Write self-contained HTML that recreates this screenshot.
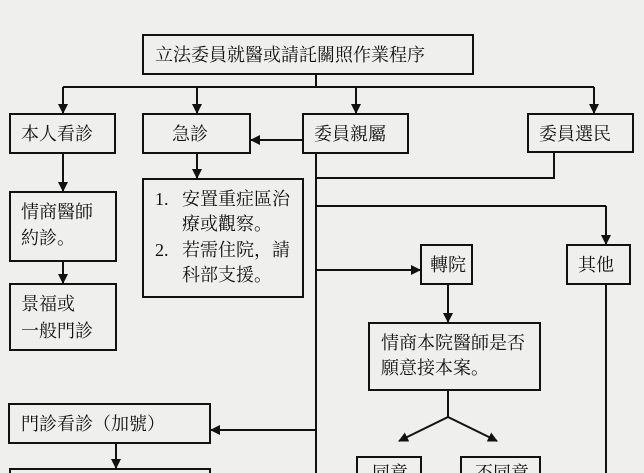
<!DOCTYPE html>
<html><head><meta charset="utf-8"><style>
html,body{margin:0;padding:0;background:#efefed;width:644px;height:473px;overflow:hidden;}
svg{display:block;overflow:hidden;}
text{font-family:"Liberation Serif","Noto Serif CJK SC","Noto Sans CJK TC",serif;font-size:18px;fill:#111;}
</style></head><body>
<svg width="644" height="473" viewBox="0 0 644 473" xmlns="http://www.w3.org/2000/svg">
<defs><marker id="a" markerWidth="10" markerHeight="10" refX="9" refY="5" orient="auto" markerUnits="userSpaceOnUse"><path d="M0,0 L10,5 L0,10 z" fill="#111"/></marker></defs>
<g fill="none" stroke="#111" stroke-width="2">
<rect x="143" y="35" width="330" height="39"/>
<rect x="10" y="114" width="105" height="39"/>
<rect x="143" y="114" width="107" height="39"/>
<rect x="303" y="114" width="105" height="39"/>
<rect x="528" y="114" width="105" height="38"/>
<rect x="10" y="192" width="106" height="69"/>
<rect x="10" y="284" width="106" height="66"/>
<rect x="143" y="179" width="160" height="118"/>
<rect x="421" y="245" width="51" height="39"/>
<rect x="567" y="245" width="63" height="39"/>
<rect x="369" y="323" width="171" height="67"/>
<rect x="9" y="404" width="201" height="39"/>
<path d="M10 473V469H210V473"/>
<path d="M357 473V457H421V473"/>
<path d="M461 473V457H540V473"/>
<path d="M316 74V87M63 87H594"/>
<path d="M63 87V113" marker-end="url(#a)"/>
<path d="M197 87V113" marker-end="url(#a)"/>
<path d="M356 87V113" marker-end="url(#a)"/>
<path d="M594 87V113" marker-end="url(#a)"/>
<path d="M303 140H251" marker-end="url(#a)"/>
<path d="M316 153V473M554 152V178H316M316 206H606"/>
<path d="M606 206V244" marker-end="url(#a)"/>
<path d="M606 284V473"/>
<path d="M63 153V191" marker-end="url(#a)"/>
<path d="M63 261V283" marker-end="url(#a)"/>
<path d="M197 153V178" marker-end="url(#a)"/>
<path d="M316 270H420" marker-end="url(#a)"/>
<path d="M448 284V322" marker-end="url(#a)"/>
<path d="M448 390V417"/>
<path d="M448 417L399 441" marker-end="url(#a)"/>
<path d="M448 417L497 441" marker-end="url(#a)"/>
<path d="M316 430H211" marker-end="url(#a)"/>
<path d="M116 443V468" marker-end="url(#a)"/>
</g>
<text x="155" y="61">立法委員就醫或請託關照作業程序</text>
<text x="21" y="140">本人看診</text>
<text x="172" y="140">急診</text>
<text x="314" y="140">委員親屬</text>
<text x="539" y="140">委員選民</text>
<text x="21" y="218">情商醫師</text>
<text x="21" y="244">約診。</text>
<text x="21" y="310">景福或</text>
<text x="21" y="337">一般門診</text>
<text x="155" y="205">1.</text><text x="182" y="205">安置重症區治</text>
<text x="182" y="230">療或觀察。</text>
<text x="155" y="256">2.</text><text x="182" y="256">若需住院，請</text>
<text x="182" y="281">科部支援。</text>
<text x="430" y="271">轉院</text>
<text x="578" y="271">其他</text>
<text x="381" y="349">情商本院醫師是否</text>
<text x="381" y="374">願意接本案。</text>
<text x="21" y="430">門診看診（加號）</text>
<text x="372" y="479">同意</text>
<text x="475" y="479">不同意</text>
</svg>
</body></html>
